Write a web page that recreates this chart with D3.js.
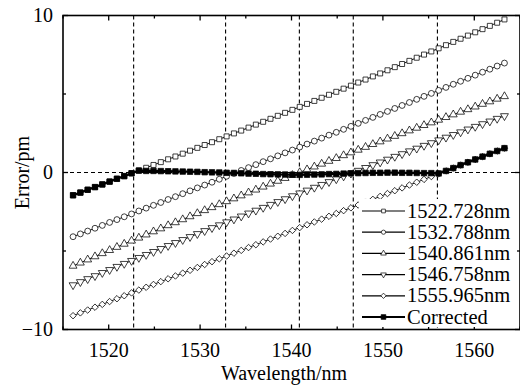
<!DOCTYPE html>
<html>
<head>
<meta charset="utf-8">
<script src="https://cdn.jsdelivr.net/npm/d3@7"></script>
<style>
  html, body { margin: 0; padding: 0; background: #fff; }
  svg { display: block; }
  text { font-family: "Liberation Serif", "Times New Roman", serif; fill: #000; }
</style>
</head>
<body>
<svg id="chart" width="520" height="385"></svg>
<script>
// Sampled wavelengths (nm)
const wavelengths = [
  1516.1, 1516.9, 1517.7, 1518.5, 1519.3, 1520.1, 1520.9, 1521.7, 1522.5, 1523.3,
  1524.1, 1524.9, 1525.7, 1526.5, 1527.3, 1528.1, 1528.9, 1529.7, 1530.5, 1531.3,
  1532.1, 1532.9, 1533.7, 1534.5, 1535.3, 1536.1, 1536.9, 1537.7, 1538.5, 1539.3,
  1540.1, 1540.9, 1541.7, 1542.5, 1543.3, 1544.1, 1544.9, 1545.7, 1546.5, 1547.3,
  1548.1, 1548.9, 1549.7, 1550.5, 1551.3, 1552.1, 1552.9, 1553.7, 1554.5, 1555.3,
  1556.1, 1556.9, 1557.7, 1558.5, 1559.3, 1560.1, 1560.9, 1561.7, 1562.5, 1563.3
];

// Error (pm) with each reference wavelength used for calibration
const err1522 = [
  -1.45, -1.28, -1.10, -0.93, -0.76, -0.58, -0.40, -0.23, -0.05, 0.13,
  0.30, 0.48, 0.66, 0.84, 1.02, 1.20, 1.39, 1.57, 1.75, 1.93,
  2.12, 2.30, 2.49, 2.67, 2.86, 3.05, 3.23, 3.42, 3.61, 3.80,
  3.99, 4.18, 4.37, 4.56, 4.76, 4.95, 5.14, 5.34, 5.53, 5.73,
  5.92, 6.12, 6.31, 6.51, 6.71, 6.91, 7.11, 7.31, 7.51, 7.71,
  7.91, 8.11, 8.32, 8.52, 8.72, 8.93, 9.13, 9.34, 9.54, 9.75
];
const err1532 = [
  -4.09, -3.91, -3.73, -3.55, -3.37, -3.18, -3.00, -2.82, -2.64, -2.45,
  -2.27, -2.09, -1.91, -1.72, -1.54, -1.35, -1.17, -0.98, -0.80, -0.62,
  -0.43, -0.24, -0.06, 0.13, 0.31, 0.50, 0.69, 0.87, 1.06, 1.25,
  1.43, 1.62, 1.81, 2.00, 2.19, 2.38, 2.56, 2.75, 2.94, 3.13,
  3.32, 3.51, 3.70, 3.89, 4.08, 4.27, 4.46, 4.66, 4.85, 5.04,
  5.23, 5.42, 5.62, 5.81, 6.00, 6.20, 6.39, 6.58, 6.78, 6.97
];
const err1540 = [
  -5.95, -5.75, -5.55, -5.35, -5.15, -4.95, -4.75, -4.55, -4.35, -4.16,
  -3.96, -3.76, -3.57, -3.37, -3.18, -2.99, -2.80, -2.60, -2.41, -2.22,
  -2.03, -1.84, -1.66, -1.47, -1.28, -1.10, -0.91, -0.72, -0.54, -0.36,
  -0.17, 0.01, 0.19, 0.37, 0.55, 0.73, 0.91, 1.09, 1.27, 1.44,
  1.62, 1.80, 1.97, 2.15, 2.32, 2.49, 2.67, 2.84, 3.01, 3.18,
  3.35, 3.52, 3.69, 3.86, 4.02, 4.19, 4.36, 4.52, 4.69, 4.85
];
const err1546 = [
  -7.17, -6.97, -6.78, -6.59, -6.39, -6.20, -6.00, -5.81, -5.62, -5.43,
  -5.24, -5.05, -4.86, -4.67, -4.48, -4.29, -4.10, -3.91, -3.72, -3.53,
  -3.35, -3.16, -2.98, -2.79, -2.60, -2.42, -2.24, -2.05, -1.87, -1.69,
  -1.50, -1.32, -1.14, -0.96, -0.78, -0.60, -0.42, -0.24, -0.06, 0.12,
  0.30, 0.48, 0.65, 0.83, 1.01, 1.18, 1.36, 1.53, 1.71, 1.88,
  2.06, 2.23, 2.40, 2.57, 2.75, 2.92, 3.09, 3.26, 3.43, 3.60
];
const err1555 = [
  -9.12, -8.94, -8.76, -8.58, -8.40, -8.22, -8.04, -7.85, -7.67, -7.49,
  -7.31, -7.13, -6.95, -6.77, -6.59, -6.41, -6.23, -6.05, -5.86, -5.68,
  -5.50, -5.32, -5.14, -4.96, -4.78, -4.60, -4.42, -4.24, -4.06, -3.88,
  -3.69, -3.51, -3.33, -3.15, -2.97, -2.79, -2.61, -2.43, -2.25, -2.07,
  -1.89, -1.71, -1.52, -1.34, -1.16, -0.98, -0.80, -0.62, -0.44, -0.26,
  -0.08, 0.10, 0.28, 0.47, 0.65, 0.83, 1.01, 1.19, 1.37, 1.55
];
const errCorrected = [
  -1.45, -1.28, -1.10, -0.93, -0.76, -0.58, -0.40, -0.23, -0.05, 0.12,
  0.10, 0.10, 0.09, 0.08, 0.07, 0.06, 0.05, 0.04, 0.02, 0.01,
  0.00, -0.02, -0.03, -0.05, -0.07, -0.08, -0.10, -0.11, -0.12, -0.13,
  -0.14, -0.15, -0.14, -0.13, -0.12, -0.10, -0.09, -0.07, -0.05, -0.04,
  -0.03, -0.02, -0.02, -0.01, -0.01, -0.02, -0.02, -0.03, -0.04, -0.04,
  -0.06, 0.10, 0.28, 0.47, 0.65, 0.83, 1.01, 1.19, 1.37, 1.55
];

// Reference (calibration) wavelengths marked by dashed verticals
const referenceWavelengths = [1522.728, 1532.788, 1540.861, 1546.758, 1555.965];
const seriesNames = ["1522.728nm", "1532.788nm", "1540.861nm", "1546.758nm", "1555.965nm", "Corrected"];

const xTickValues = [1520, 1530, 1540, 1550, 1560];
const xMinorTicks = [1515, 1525, 1535, 1545, 1555, 1565];
const yTickValues = [-10, 0, 10];
const yMinorTicks = [-5, 5];

const svg = d3.select("#chart");
const plotLeft = 63, plotRight = 520, plotTop = 15.5, plotBottom = 329.5;

const x = d3.scaleLinear().domain([1515, 1565]).range([plotLeft, plotRight]);
const y = d3.scaleLinear().domain([-10, 10]).range([plotBottom, plotTop]);

const plot = svg.append("g");

// Dashed reference lines
plot.selectAll("line.ref").data(referenceWavelengths).join("line")
  .attr("x1", d => x(d)).attr("x2", d => x(d))
  .attr("y1", plotTop).attr("y2", plotBottom)
  .attr("stroke", "#000").attr("stroke-width", 1.1)
  .attr("stroke-dasharray", "4,3");
plot.append("line")
  .attr("x1", plotLeft).attr("x2", plotRight)
  .attr("y1", y(0)).attr("y2", y(0))
  .attr("stroke", "#000").attr("stroke-width", 1.1)
  .attr("stroke-dasharray", "4,3");

const symbols = [
  { type: d3.symbolSquare, size: 25, rot: 0, fill: "#fff" },
  { type: d3.symbolCircle, size: 27, rot: 0, fill: "#fff" },
  { type: d3.symbolTriangle, size: 27, rot: 0, fill: "#fff" },
  { type: d3.symbolTriangle, size: 27, rot: 180, fill: "#fff" },
  { type: d3.symbolSquare, size: 21, rot: 45, fill: "#fff" },
  { type: d3.symbolSquare, size: 30, rot: 0, fill: "#000" }
];
const allSeries = [err1522, err1532, err1540, err1546, err1555, errCorrected];

const line = d3.line().x(d => x(d[0])).y(d => y(d[1]));

allSeries.forEach((vals, i) => {
  const pts = wavelengths.map((w, j) => [w, vals[j]]);
  const corrected = i === 5;
  const g = plot.append("g");
  g.append("path").datum(pts)
    .attr("d", line)
    .attr("fill", "none")
    .attr("stroke", "#000")
    .attr("stroke-width", corrected ? 2.3 : 0.9);
  const sym = symbols[i];
  g.selectAll("path.m").data(pts).join("path")
    .attr("class", "m")
    .attr("d", d3.symbol().type(sym.type).size(sym.size))
    .attr("transform", d => `translate(${x(d[0])},${y(d[1])}) rotate(${sym.rot})`)
    .attr("fill", sym.fill)
    .attr("stroke", "#000")
    .attr("stroke-width", 0.75);
});

// Frame and ticks
const frame = svg.append("g");
frame.append("rect")
  .attr("x", plotLeft).attr("y", plotTop)
  .attr("width", plotRight - plotLeft).attr("height", plotBottom - plotTop)
  .attr("fill", "none").attr("stroke", "#000").attr("stroke-width", 1.6);

const tickLen = 5, minorLen = 3;
function xTicks(vals, len) {
  vals.forEach(v => {
    frame.append("line").attr("x1", x(v)).attr("x2", x(v))
      .attr("y1", plotBottom).attr("y2", plotBottom - len).attr("stroke", "#000").attr("stroke-width", 1.3);
    frame.append("line").attr("x1", x(v)).attr("x2", x(v))
      .attr("y1", plotTop).attr("y2", plotTop + len).attr("stroke", "#000").attr("stroke-width", 1.3);
  });
}
function yTicks(vals, len) {
  vals.forEach(v => {
    frame.append("line").attr("x1", plotLeft).attr("x2", plotLeft + len)
      .attr("y1", y(v)).attr("y2", y(v)).attr("stroke", "#000").attr("stroke-width", 1.3);
    frame.append("line").attr("x1", plotRight).attr("x2", plotRight - len)
      .attr("y1", y(v)).attr("y2", y(v)).attr("stroke", "#000").attr("stroke-width", 1.3);
  });
}
xTicks(xTickValues, tickLen);
xTicks(xMinorTicks, minorLen);
yTicks(yTickValues, tickLen);
yTicks(yMinorTicks, minorLen);

// Tick labels
svg.append("g").selectAll("text").data(xTickValues).join("text")
  .attr("x", d => x(d)).attr("y", 357)
  .attr("text-anchor", "middle").attr("font-size", 20)
  .text(d => d);
svg.append("g").selectAll("text").data(yTickValues).join("text")
  .attr("x", 53).attr("y", d => y(d) + 6.5)
  .attr("text-anchor", "end").attr("font-size", 20)
  .text(d => d < 0 ? "\u2212" + Math.abs(d) : d);

// Axis titles
svg.append("text").attr("x", 284).attr("y", 380)
  .attr("text-anchor", "middle").attr("font-size", 20)
  .text("Wavelength/nm");
svg.append("text")
  .attr("transform", `translate(29,${y(0)}) rotate(-90)`)
  .attr("text-anchor", "middle").attr("font-size", 20)
  .text("Error/pm");

// Legend
const legend = svg.append("g");
legend.append("rect").attr("x", 359).attr("y", 199).attr("width", 158).attr("height", 128)
  .attr("fill", "#fff");
seriesNames.forEach((name, i) => {
  const cy = 211 + i * 21.2;
  const corrected = i === 5;
  legend.append("line").attr("x1", 362).attr("x2", 405)
    .attr("y1", cy).attr("y2", cy)
    .attr("stroke", "#000").attr("stroke-width", corrected ? 2 : 1.2);
  const sym = symbols[i];
  legend.append("path")
    .attr("d", d3.symbol().type(sym.type).size(corrected ? 22 : 14))
    .attr("transform", `translate(383.5,${cy}) rotate(${sym.rot})`)
    .attr("fill", sym.fill).attr("stroke", "#000").attr("stroke-width", 0.7);
  legend.append("text").attr("x", 407).attr("y", cy + 6.5)
    .attr("font-size", 20.5).text(name);
});
</script>
</body>
</html>
